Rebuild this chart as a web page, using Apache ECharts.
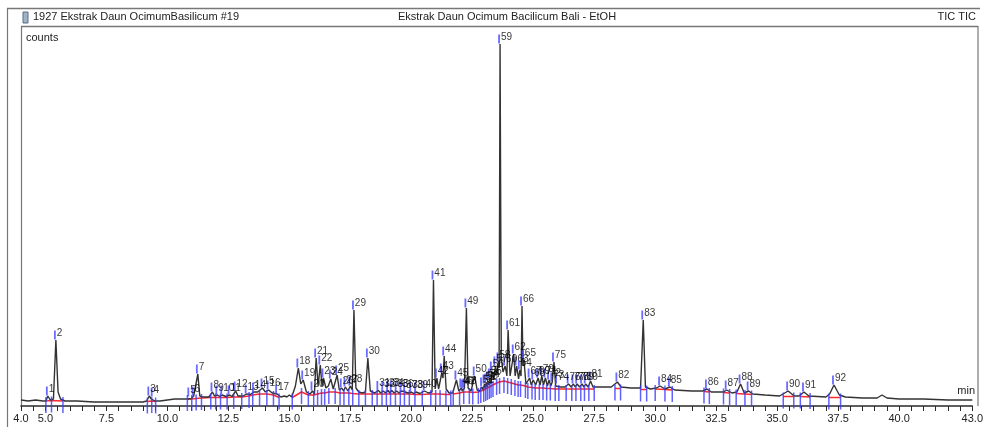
<!DOCTYPE html>
<html><head><meta charset="utf-8">
<script src="https://cdn.jsdelivr.net/npm/echarts@6/dist/echarts.min.js"></script>
<style>html,body{margin:0;padding:0;background:#fff}#c{width:986px;height:427px}</style>
</head><body><div id="c"></div>
<script>
// ---- data (time in min, counts in arbitrary units) ----
const xLabelValues = [4.0, 5.0, 7.5, 10.0, 12.5, 15.0, 17.5, 20.0, 22.5, 25.0, 27.5, 30.0, 32.5, 35.0, 37.5, 40.0, 43.0];

const trace = [
[4.0,6],[4.3,5],[4.6,6],[4.9,5],[5.02,5],[5.1,10],[5.2,6],[5.33,7],[5.43,66],[5.52,14],[5.62,7],[5.8,5],[6.3,5],[7.0,4],[7.5,4],[8.0,4],[8.5,4],[9.0,4],
[9.15,5],[9.26,10],[9.34,7],[9.4,9],[9.5,5],[9.7,5],[10.0,6],[10.3,7],[10.6,7],[10.85,7],[10.9,9],[10.98,7.5],[11.08,10],[11.16,8],[11.25,32],[11.33,10],
[11.45,9],[11.7,9],[11.85,14],[11.93,10],[12.05,11],[12.15,9.5],[12.25,11],[12.4,9.5],[12.55,11],[12.65,9.5],[12.8,15],[12.9,10],[13.1,10],[13.25,12],
[13.4,11.5],[13.55,14],[13.7,14],[13.9,18],[14.02,14],[14.15,16],[14.3,13],[14.5,12],[14.65,9],[14.8,10],[14.9,9],[15.0,11],[15.1,9],[15.25,20],
[15.37,38],[15.47,22],[15.57,26],[15.7,14],[15.85,12],[15.95,15],[16.03,12],[16.1,48],[16.18,20],[16.27,41],[16.34,20],[16.4,28],[16.5,18],[16.6,20],
[16.7,27],[16.8,17],[16.96,31],[17.05,16],[17.15,18],[17.22,15],[17.3,19],[17.4,15],[17.5,20],[17.58,16],[17.65,96],[17.73,18],[17.85,14],[18.0,13],
[18.12,14],[18.22,48],[18.32,15],[18.5,13],[18.65,15.5],[18.75,13],[18.85,15],[18.95,13],[19.05,15.5],[19.12,13],[19.2,15.5],[19.3,13],[19.4,15],
[19.5,13],[19.6,15],[19.68,13],[19.75,14],[19.88,13],[20.0,14],[20.1,12.5],[20.2,14],[20.35,12.5],[20.55,15],[20.7,13],[20.85,14],[20.91,126],[20.98,17],
[21.05,28],[21.12,17],[21.25,33],[21.3,28],[21.35,50],[21.43,17],[21.55,13],[21.7,13],[21.85,26],[21.95,15],[22.05,18],[22.09,15],[22.12,17],[22.15,15.5],
[22.18,18],[22.26,98],[22.33,18],[22.45,15],[22.6,30],[22.7,16],[22.8,15],[22.9,19],[22.95,16],[23.0,22],[23.04,18],[23.07,23],[23.11,19],[23.15,25],
[23.19,21],[23.22,28],[23.26,22],[23.3,35],[23.38,26],[23.45,40],[23.52,32],[23.57,44],[23.6,38],[23.64,362],[23.69,48],[23.76,34],[23.85,40],[23.92,30],
[23.97,76],[24.05,30],[24.12,28],[24.2,52],[24.26,30],[24.32,40],[24.4,27],[24.45,36],[24.5,30],[24.54,100],[24.58,40],[24.62,46],[24.7,22],[24.85,28],
[24.92,21],[25.0,26],[25.1,21],[25.2,28],[25.28,21],[25.35,30],[25.42,21],[25.5,28],[25.58,20],[25.65,26],[25.72,20],[25.78,24],[25.85,44],[25.92,20],
[25.98,22],[26.1,19],[26.3,19],[26.45,22],[26.55,19],[26.65,22],[26.72,19],[26.8,22],[26.9,19],[27.0,22],[27.08,19],[27.15,22],[27.25,19],[27.35,25],
[27.45,19],[27.8,19],[28.2,19],[28.45,24],[28.6,19],[29.0,18],[29.4,18],[29.51,86],[29.6,19],[29.8,17],[30.05,18],[30.2,20],[30.4,17],[30.6,19],[30.8,16],
[31.5,15],[31.95,15],[32.12,17],[32.3,14],[32.8,14],[32.93,16],[33.15,13],[33.35,14],[33.5,22],[33.65,13],[33.83,15],[34.0,12],[34.5,11],[35.1,10],
[35.45,15],[35.7,10],[35.9,10],[36.1,14],[36.3,10],[37.0,9],[37.15,12],[37.33,21],[37.55,11],[37.8,9],[38.5,8],[39.1,8],[39.3,11],[39.5,8],[40.0,7],
[41.0,7],[42.0,6],[43.0,6]
];

const peakNo = [1,2,3,4,5,6,7,8,9,10,11,12,13,14,15,16,17,18,19,20,21,22,23,24,25,26,27,28,29,30,31,32,33,34,35,36,37,38,39,40,41,42,43,44,45,46,47,48,49,50,
51,52,53,54,55,56,57,58,59,60,61,62,63,64,65,66,67,68,69,70,71,72,73,74,75,76,77,78,79,80,81,82,83,84,85,86,87,88,89,90,91,92];
const peakTime = [5.1,5.43,9.26,9.4,10.9,11.08,11.25,11.85,12.05,12.25,12.55,12.8,13.25,13.55,13.9,14.15,14.5,15.37,15.57,15.95,16.1,16.27,16.4,16.7,16.96,
17.15,17.3,17.5,17.65,18.22,18.65,18.85,19.05,19.2,19.4,19.6,19.75,20.0,20.2,20.55,20.91,21.05,21.25,21.35,21.85,22.05,22.12,22.18,22.26,22.6,
22.9,23.0,23.07,23.15,23.22,23.3,23.45,23.57,23.64,23.85,23.97,24.2,24.32,24.45,24.62,24.54,24.85,25.0,25.2,25.35,25.5,25.65,25.78,25.98,25.85,
26.45,26.65,26.8,27.0,27.15,27.35,28.45,29.51,30.2,30.6,32.12,32.93,33.5,33.83,35.45,36.1,37.33];
const peakTop = [10,66,10,9,9,10,32,14,11,11,11,15,12,14,18,16,12,38,26,15,48,41,28,27,31,18,19,20,96,48,15.5,15,15.5,15.5,15,15,14,14,14,15,126,28,33,50,26,18,17,18,98,30,
19,22,23,25,28,35,40,44,362,40,76,52,40,36,46,100,28,26,28,30,28,26,24,22,44,22,22,22,22,22,25,24,86,20,19,17,16,22,15,15,14,21];

// integration baselines (red) with peak start/end markers (blue) at each vertex
const baselineRuns = [
[[5.02,5],[5.25,5.5],[5.72,5]],
[[9.18,4.5],[9.36,5],[9.52,4.5]],
[[10.82,7],[11.0,7],[11.18,7.5],[11.4,8],[11.78,8.5],[11.98,8.5],[12.18,8.5],[12.45,8.5],[12.72,9],[13.05,9],[13.35,10],[13.5,11],[13.78,12],[14.08,12],[14.35,11],[14.58,8.5]],
[[15.12,8.5],[15.5,14],[15.78,11],[16.0,11],[16.16,12],[16.32,13],[16.45,13],[16.62,14],[16.88,14],[17.08,13],[17.24,13],[17.44,13],[17.6,12.5],[17.85,12],[18.12,12],[18.4,12],[18.6,12],[18.8,12],[18.98,12],[19.15,12],[19.35,12],[19.55,12],[19.72,12],[19.92,12],[20.15,11.5],[20.45,11.5],[20.8,12],[21.0,12],[21.18,12],[21.42,11.5],[21.62,11.5]],
[[21.72,12],[21.98,13],[22.15,14],[22.38,14],[22.52,13.5],[22.75,14],[22.85,15],[22.97,16],[23.05,17],[23.12,18],[23.2,19],[23.27,20],[23.35,21],[23.5,23],[23.62,24],[23.8,25],[23.95,24],[24.1,23],[24.25,22],[24.38,21],[24.48,21],[24.68,20],[24.78,19],[24.95,18.5],[25.08,18],[25.25,18],[25.4,18],[25.55,17.5],[25.7,17.5],[25.9,17],[26.05,17],[26.35,17],[26.58,17],[26.75,17],[26.95,17],[27.1,17],[27.28,17],[27.5,17]],
[[28.35,17.5],[28.58,17.5]],
[[29.4,16.5],[29.65,16.5]],
[[30.0,17],[30.4,16.5],[30.7,16]],
[[32.0,14.5],[32.22,14]],
[[32.8,13.5],[33.05,13]],
[[33.32,12.5],[33.68,12],[33.95,11.5]],
[[35.25,9.5],[35.68,9.5]],
[[35.95,9.5],[36.35,9]],
[[37.12,8.5],[37.6,8.5]]
];

// ---- chart ----
const minorTicks = [];
for (let t = 4.0; t <= 43.0001; t += 0.5) minorTicks.push(+t.toFixed(1));

const FONT = 'Liberation Sans, Arial, sans-serif';
const series = [];
baselineRuns.forEach(run => series.push({
  type: 'line', data: run, showSymbol: false, silent: true, z: 2,
  lineStyle: {color: '#ff2a2a', width: 1.6}
}));
series.push({
  type: 'line', data: trace, showSymbol: false, z: 3,
  lineStyle: {color: '#333333', width: 1.4}
});
const ticks = [];
baselineRuns.forEach(run => run.forEach(p => ticks.push(p)));
series.push({
  type: 'scatter', data: ticks, z: 4, symbol: 'rect', symbolSize: [1.5, 16], symbolOffset: [0, 4],
  itemStyle: {color: '#3a3aff'}
});
series.push({
  type: 'scatter', z: 5, symbol: 'rect', symbolSize: [1.8, 9], symbolOffset: [-1, -5],
  data: peakNo.map((n, i) => [peakTime[i], peakTop[i], n]),
  itemStyle: {color: '#4646ff'},
  label: {show: true, position: 'right', distance: 1, offset: [0, -2], fontSize: 10, color: '#000',
          fontFamily: FONT, formatter: p => String(p.data[2])}
});

const chart = echarts.init(document.getElementById('c'), null, {renderer: 'canvas'});
chart.setOption({
  animation: false,
  backgroundColor: '#ffffff',
  grid: {left: 21, right: 8, top: 28, bottom: 21},
  xAxis: {
    type: 'value', min: 4, max: 43,
    axisLine: {lineStyle: {color: '#2a2a2a', width: 1.5}},
    axisTick: {customValues: minorTicks, length: 5, lineStyle: {color: '#2a2a2a'}},
    axisLabel: {customValues: xLabelValues, formatter: v => v.toFixed(1), fontSize: 11, color: '#222',
                margin: 7, fontFamily: FONT},
    splitLine: {show: false}
  },
  yAxis: {type: 'value', min: 0, max: 378, show: false},
  series: series,
  graphic: [
    {type: 'line', shape: {x1: 7, y1: 8.5, x2: 980, y2: 8.5}, style: {stroke: '#777', lineWidth: 1.5}},
    {type: 'line', shape: {x1: 7.5, y1: 8, x2: 7.5, y2: 427}, style: {stroke: '#777', lineWidth: 1.2}},
    {type: 'line', shape: {x1: 21, y1: 26.5, x2: 978, y2: 26.5}, style: {stroke: '#777', lineWidth: 1.5}},
    {type: 'line', shape: {x1: 21.5, y1: 26, x2: 21.5, y2: 406}, style: {stroke: '#777', lineWidth: 1.2}},
    {type: 'line', shape: {x1: 978, y1: 26, x2: 978, y2: 406}, style: {stroke: '#777', lineWidth: 1.2}},
    {type: 'rect', shape: {x: 23, y: 12, width: 5, height: 11}, style: {fill: '#9fb4c8', stroke: '#5a6f85', lineWidth: 1}},
    {type: 'text', x: 33, y: 17, style: {text: '1927 Ekstrak Daun OcimumBasilicum #19', fontSize: 11, fontFamily: FONT, fill: '#222', verticalAlign: 'middle'}},
    {type: 'text', x: 507, y: 17, style: {text: 'Ekstrak Daun Ocimum Bacilicum Bali - EtOH', fontSize: 11, fontFamily: FONT, fill: '#222', align: 'center', verticalAlign: 'middle'}},
    {type: 'text', x: 976, y: 17, style: {text: 'TIC TIC', fontSize: 11, fontFamily: FONT, fill: '#222', align: 'right', verticalAlign: 'middle'}},
    {type: 'text', x: 26, y: 38, style: {text: 'counts', fontSize: 11, fontFamily: FONT, fill: '#222', verticalAlign: 'middle'}},
    {type: 'text', x: 975, y: 391, style: {text: 'min', fontSize: 11, fontFamily: FONT, fill: '#222', align: 'right', verticalAlign: 'middle'}}
  ]
});
</script>
</body></html>
